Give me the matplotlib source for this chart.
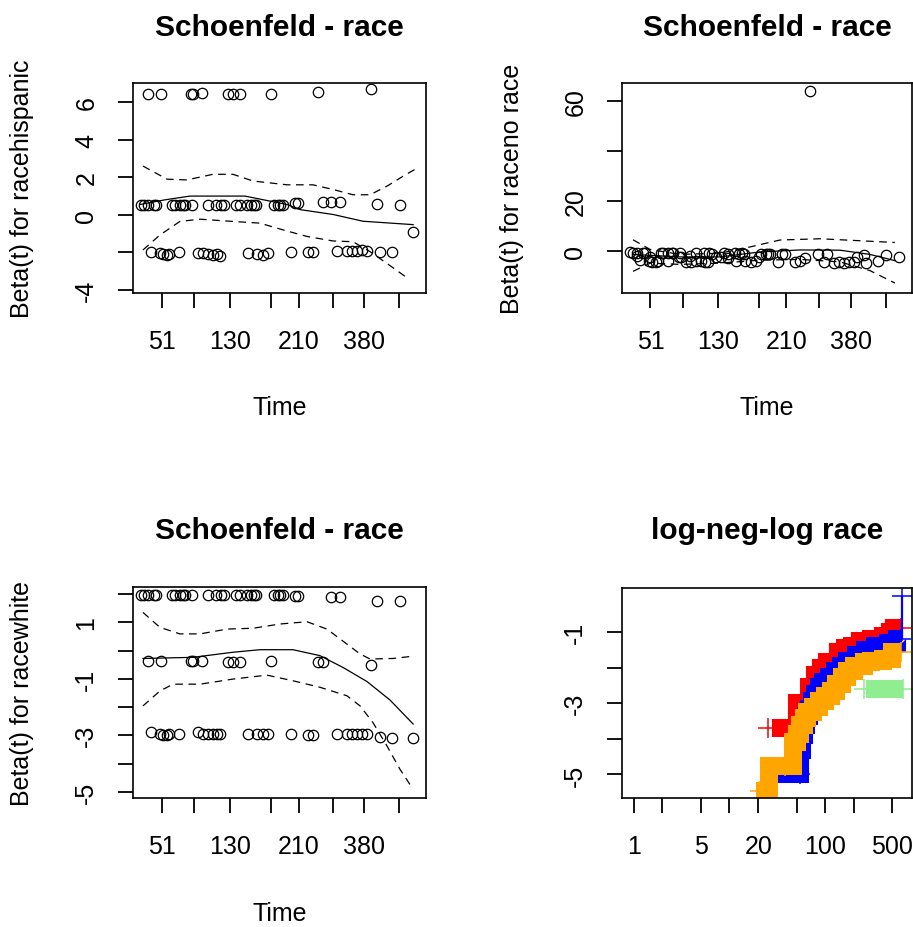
import numpy as np
import matplotlib
matplotlib.use("Agg")
import matplotlib.pyplot as plt

plt.rcParams['font.family'] = ['Liberation Sans', 'DejaVu Sans']
plt.rcParams['lines.scale_dashes'] = False

W, H = 913, 928

# transformed time axis shared by the three residual plots
time_ticks = [0.098, 0.209, 0.332, 0.472, 0.566, 0.681, 0.790, 0.909]
time_labels = ['51', '', '130', '', '210', '', '380', '']

# event positions (transformed time) by race group
x_white = [0.027, 0.038, 0.051, 0.072, 0.078, 0.133, 0.143, 0.160, 0.171, 0.177,
           0.201, 0.256, 0.283, 0.300, 0.311, 0.352, 0.365, 0.389, 0.403, 0.413,
           0.420, 0.481, 0.495, 0.502, 0.512, 0.553, 0.563, 0.676, 0.706, 0.833, 0.911]
x_hisp = [0.051, 0.096, 0.198, 0.205, 0.236, 0.324, 0.341, 0.365, 0.471, 0.631, 0.812]
x_norace = [0.648]
x_black = [0.061, 0.092, 0.102, 0.116, 0.123, 0.157, 0.222, 0.239, 0.256, 0.273,
           0.287, 0.297, 0.392, 0.423, 0.444, 0.461, 0.539, 0.597, 0.614, 0.696,
           0.730, 0.747, 0.765, 0.782, 0.799, 0.843, 0.884, 0.956]

# scaled Schoenfeld residuals for racehispanic
hisp_white = [0.5, 0.5, 0.5, 0.5, 0.5, 0.5, 0.5, 0.5, 0.5, 0.5,
              0.5, 0.5, 0.5, 0.5, 0.5, 0.5, 0.5, 0.5, 0.5, 0.5,
              0.5, 0.55, 0.55, 0.55, 0.55, 0.62, 0.62, 0.68, 0.7, 0.58, 0.5]
hisp_hisp = [6.45, 6.45, 6.45, 6.45, 6.5, 6.45, 6.45, 6.45, 6.45, 6.55, 6.7]
hisp_norace = [0.68]
hisp_black = [-2.0, -2.05, -2.1, -2.15, -2.1, -2.0, -2.05, -2.05, -2.1, -2.15,
              -2.1, -2.2, -2.05, -2.1, -2.15, -2.05, -2.0, -2.0, -2.0, -1.95,
              -1.95, -1.95, -1.9, -1.85, -1.95, -2.0, -2.0, -0.9]

# scaled Schoenfeld residuals for raceno race
norace_white = [-0.7, -0.8, -0.8, -0.9, -0.9, -0.9, -1.0, -1.0, -0.9, -1.0,
                -1.0, -1.1, -1.0, -1.1, -1.2, -1.1, -1.2, -1.0, -1.2, -1.1,
                -1.2, -1.3, -1.2, -1.3, -1.2, -1.4, -1.3, -1.2, -1.4, -1.6, -1.6]
norace_hisp = [-2.2, -2.4, -2.6, -2.5, -2.3, -2.7, -2.5, -2.8, -2.6, -2.9, -2.7]
norace_norace = [64.0]
norace_black = [-3.8, -4.3, -4.5, -4.6, -4.2, -4.0, -4.4, -4.6, -4.3, -4.0,
                -4.5, -4.4, -4.2, -4.0, -4.6, -4.2, -4.4, -4.6, -4.2, -4.5,
                -4.8, -4.6, -4.9, -4.4, -4.7, -4.8, -4.3, -2.4]

# scaled Schoenfeld residuals for racewhite
white_white = [1.95, 1.95, 1.95, 1.95, 1.95, 1.95, 1.95, 1.95, 1.95, 1.95,
               1.95, 1.95, 1.95, 1.95, 1.95, 1.95, 1.95, 1.95, 1.95, 1.95,
               1.95, 1.95, 1.95, 1.95, 1.95, 1.93, 1.93, 1.9, 1.9, 1.75, 1.75]
white_hisp = [-0.37, -0.37, -0.37, -0.37, -0.37, -0.4, -0.4, -0.4, -0.37, -0.42, -0.5]
white_norace = [-0.42]
white_black = [-2.9, -2.95, -3.0, -3.0, -2.95, -2.95, -2.9, -2.95, -2.95, -2.95,
               -2.95, -2.95, -2.95, -2.95, -2.95, -2.95, -2.95, -3.0, -3.0, -2.95,
               -2.95, -2.95, -2.95, -2.95, -2.95, -3.05, -3.1, -3.1]

# smoothed beta(t) with confidence band
hisp_fit_x = [0.024, 0.109, 0.195, 0.382, 0.526, 0.570, 0.683, 0.785, 0.956]
hisp_fit_y = [0.55, 0.8, 1.0, 1.0, 0.55, 0.28, 0.02, -0.34, -0.52]
hisp_hi_x = [0.034, 0.116, 0.184, 0.273, 0.341, 0.410, 0.526, 0.614, 0.683, 0.751,
             0.809, 0.867, 0.922, 0.962]
hisp_hi_y = [2.6, 1.9, 1.86, 2.16, 2.16, 1.8, 1.6, 1.6, 1.35, 1.07, 1.07, 1.53, 2.06, 2.42]
hisp_lo_x = [0.034, 0.092, 0.160, 0.229, 0.341, 0.433, 0.512, 0.594, 0.683, 0.751,
             0.809, 0.867, 0.939]
hisp_lo_y = [-1.87, -1.07, -0.35, -0.23, -0.35, -0.44, -0.8, -1.15, -1.39, -1.43,
             -1.96, -2.59, -3.39]

norace_fit_x = [0.038, 0.2, 0.338, 0.476, 0.614, 0.752, 0.855, 0.941]
norace_fit_y = [-1.5, -2.5, -2.5, -0.5, 0.3, 0.2, -1.5, -4.0]
norace_hi_x = [0.038, 0.097, 0.2, 0.338, 0.441, 0.545, 0.683, 0.821, 0.941]
norace_hi_y = [4.4, 0.5, -1.5, -1.0, 1.5, 4.3, 4.8, 4.0, 3.3]
norace_lo_x = [0.038, 0.097, 0.2, 0.338, 0.476, 0.614, 0.752, 0.855, 0.941]
norace_lo_y = [-8.3, -5.0, -5.5, -5.0, -3.8, -3.5, -4.5, -8.0, -13.0]

white_fit_x = [0.034, 0.205, 0.341, 0.433, 0.546, 0.638, 0.717, 0.799, 0.877, 0.956]
white_fit_y = [-0.28, -0.24, -0.06, 0.03, 0.03, -0.18, -0.6, -1.1, -1.75, -2.6]
white_hi_x = [0.034, 0.092, 0.160, 0.229, 0.321, 0.410, 0.502, 0.594, 0.662, 0.730,
              0.775, 0.809, 0.887, 0.956]
white_hi_y = [1.35, 0.82, 0.59, 0.59, 0.76, 0.79, 0.94, 1.02, 0.76, 0.23,
              -0.12, -0.3, -0.28, -0.2]
white_lo_x = [0.034, 0.092, 0.137, 0.229, 0.341, 0.457, 0.546, 0.638, 0.730, 0.775,
              0.819, 0.867, 0.911, 0.952]
white_lo_y = [-1.96, -1.43, -1.19, -1.19, -1.01, -0.87, -1.07, -1.3, -1.6, -1.96,
              -2.55, -3.38, -4.2, -4.85]

# log(-log S(t)) step curves per race group: step times (last = end), levels, censor times
black_t = [28, 50, 68, 78, 90, 105, 135, 160, 190, 230, 300, 400, 470, 520, 610]
black_v = [-3.7, -3.0, -2.55, -2.2, -2.0, -1.85, -1.55, -1.45, -1.4, -1.25, -1.2, -1.1, -1.0, -0.9]
black_cens = [25, 47, 73, 86, 128, 165, 210, 610]

hisp_t = [31, 55, 57, 60, 63, 67, 72, 78, 85, 95, 110, 125, 145, 170, 210, 260, 330, 450, 560, 625, 625]
hisp_v = [-5.0, -4.3, -3.9, -3.6, -3.35, -3.15, -2.95, -2.75, -2.55, -2.4, -2.25, -2.1, -1.95,
          -1.8, -1.65, -1.5, -1.4, -1.3, -1.2, 0.0]
hisp_cens = [54, 56, 64, 80, 100, 610, 625]

norace_t = [266, 643]
norace_v = [-2.6]
norace_cens = [255, 640]

white_t = [19, 26, 46, 50, 55, 60, 65, 75, 85, 100, 115, 130, 150, 170, 200, 250, 300, 400, 500, 620]
white_v = [-5.45, -4.75, -4.1, -3.85, -3.6, -3.4, -3.25, -3.1, -2.95, -2.8, -2.65, -2.45,
           -2.25, -2.1, -1.95, -1.85, -1.8, -1.75, -1.55]
white_cens = [21, 25, 38, 48, 60, 70, 620]

lnl_xticks = [1, 2, 5, 10, 20, 50, 100, 200, 500]
lnl_xlabels = ['1', '', '5', '', '20', '', '100', '', '500']
lnl_yticks = [-5, -4, -3, -2, -1]
lnl_ylabels = ['-5', '', '-3', '', '-1']

TICK_FS = 18
TITLE_FS = 21.5

fig = plt.figure(figsize=(W / 100, H / 100), dpi=100)


def add_box(left, top, right, bottom):
    return fig.add_axes([left / W, 1 - bottom / H, (right - left) / W, (bottom - top) / H])


def style_axes(ax):
    for s in ax.spines.values():
        s.set_linewidth(1.2)
        s.set_color('black')
    ax.tick_params(length=11, width=1.3, labelsize=TICK_FS, color='black')
    ax.tick_params(axis='x', pad=15)
    ax.tick_params(axis='y', pad=14)
    for lab in ax.get_yticklabels():
        lab.set_rotation(90)
        lab.set_va('center')


def schoenfeld(ax, groups, fit, hi, lo, yticks, ylabels, ylim):
    for xs, ys in groups:
        ax.plot(xs, ys, 'o', ls='none', mfc='none', mec='black', ms=7.5, mew=0.9)
    ax.plot(fit[0], fit[1], color='black', lw=0.9)
    for band in (hi, lo):
        ax.plot(band[0], band[1], color='black', lw=0.9, dashes=(5.5, 4))
    ax.set_xlim(0, 1)
    ax.set_ylim(*ylim)
    ax.set_xticks(time_ticks)
    ax.set_xticklabels(time_labels)
    ax.set_yticks(yticks)
    ax.set_yticklabels(ylabels)
    style_axes(ax)


ax1 = add_box(133, 84, 426, 294)
schoenfeld(ax1,
           [(x_white, hisp_white), (x_hisp, hisp_hisp), (x_norace, hisp_norace), (x_black, hisp_black)],
           (hisp_fit_x, hisp_fit_y), (hisp_hi_x, hisp_hi_y), (hisp_lo_x, hisp_lo_y),
           [-4, -2, 0, 2, 4, 6], ['-4', '', '0', '2', '4', '6'], (-4.16, 7.02))

ax2 = add_box(622, 84, 912, 294)
schoenfeld(ax2,
           [(x_white, norace_white), (x_hisp, norace_hisp), (x_norace, norace_norace), (x_black, norace_black)],
           (norace_fit_x, norace_fit_y), (norace_hi_x, norace_hi_y), (norace_lo_x, norace_lo_y),
           [0, 20, 40, 60], ['0', '20', '', '60'], (-17.0, 67.4))

ax3 = add_box(133, 588, 426, 799)
schoenfeld(ax3,
           [(x_white, white_white), (x_hisp, white_hisp), (x_norace, white_norace), (x_black, white_black)],
           (white_fit_x, white_fit_y), (white_hi_x, white_hi_y), (white_lo_x, white_lo_y),
           list(range(-5, 3)), ['-5', '', '-3', '', '-1', '', '1', ''], (-5.22, 2.25))

# log-neg-log survival curves, thick steps with "+" at censored times
ax4 = add_box(622, 589, 912, 799)
curves = [(black_t, black_v, black_cens, 'red'),
          (hisp_t, hisp_v, hisp_cens, 'blue'),
          (norace_t, norace_v, norace_cens, 'lightgreen'),
          (white_t, white_v, white_cens, 'orange')]
for t, v, cens, col in curves:
    t = np.array(t, dtype=float)
    v = np.array(v, dtype=float)
    tb, vb = t, v
    if len(t) > 2 and t[-1] == t[-2]:
        # jump at the very last time: only a thin riser
        ax4.vlines(t[-1], v[-2], v[-1], colors=col, lw=1.6)
        tb, vb = t[:-1], v[:-1]
    ax4.step(tb, np.append(vb, vb[-1]), where='post', color=col, lw=13,
             solid_joinstyle='miter', solid_capstyle='butt')
    idx = np.clip(np.searchsorted(t, cens, side='right') - 1, 0, len(v) - 1)
    ax4.plot(cens, v[idx], '+', color=col, ms=15, mew=1.1, ls='none')
ax4.set_xscale('log')
ax4.set_xlim(0.757, 800)
ax4.set_ylim(-5.66, 0.236)
ax4.set_xticks(lnl_xticks)
ax4.set_xticklabels(lnl_xlabels)
ax4.minorticks_off()
ax4.set_yticks(lnl_yticks)
ax4.set_yticklabels(lnl_ylabels)
style_axes(ax4)

# titles and axis titles
for cx, y, txt in [(279.5, 36, 'Schoenfeld - race'), (767, 36, 'Schoenfeld - race'),
                   (279.5, 539, 'Schoenfeld - race'), (767, 539, 'log-neg-log race')]:
    fig.text(cx / W, 1 - y / H, txt, ha='center', va='baseline',
             fontsize=TITLE_FS, fontweight='bold')
for cx in (279.5, 767):
    fig.text(cx / W, 1 - 408 / H, 'Time', ha='center', va='center', fontsize=TICK_FS)
fig.text(279.5 / W, 1 - 914 / H, 'Time', ha='center', va='center', fontsize=TICK_FS)
for cx, cy, txt in [(22, 189, 'Beta(t) for racehispanic'), (512, 189, 'Beta(t) for raceno race'),
                    (22, 693, 'Beta(t) for racewhite')]:
    fig.text(cx / W, 1 - cy / H, txt, ha='center', va='center', rotation=90, fontsize=TICK_FS)

fig.savefig('out.png', dpi=100)
